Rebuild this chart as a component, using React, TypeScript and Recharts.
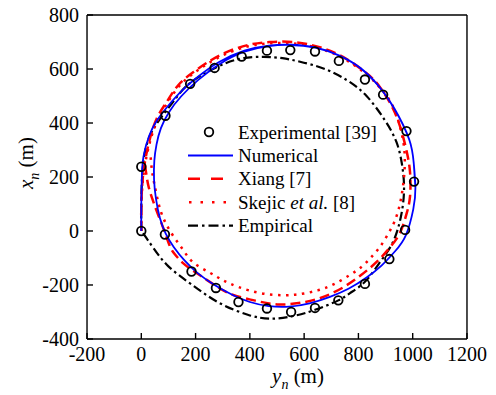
import { ComposedChart, Line, Scatter, XAxis, YAxis } from "recharts";

// every point is [yn, xn] in metres
type Pt = [number, number];

const experimental: Pt[] = [
  [0, 0], [0, 238], [87, -13], [185, -150], [275, -211], [358, -263], [463, -287],
  [552, -300], [640, -285], [726, -257], [824, -196], [914, -104], [972, 4],
  [1005, 183], [977, 370], [891, 505], [824, 561], [728, 630], [640, 665],
  [549, 670], [463, 668], [370, 646], [270, 604], [180, 545], [89, 427],
];

const numerical: Pt[] = [
  [0, 0], [0, 100], [2, 200], [8, 275], [28, 350], [58, 410], [100, 465], [150, 520],
  [210, 572], [285, 625], [380, 668], [470, 687], [550, 690], [640, 680], [730, 650],
  [810, 602], [875, 537], [932, 455], [987, 340], [1004, 250], [1010, 160], [1002, 80],
  [975, -15], [935, -75], [885, -128], [830, -172], [765, -213], [695, -244], [620, -268],
  [545, -280], [470, -278], [400, -263], [335, -236], [270, -200], [210, -158],
  [160, -110], [120, -60], [90, -10], [68, 50], [54, 120], [47, 190], [48, 260],
  [56, 320], [72, 380], [102, 440], [148, 500], [210, 560], [288, 618], [380, 664],
  [470, 685], [550, 689], [640, 679], [730, 649], [810, 601], [875, 536], [932, 454],
  [987, 339], [1004, 249], [1010, 160],
];

const xiang: Pt[] = [
  [0, 0], [0, 90], [4, 180], [14, 260], [32, 343], [57, 417], [94, 479], [136, 540],
  [186, 584], [240, 622], [308, 660], [394, 689], [474, 700], [560, 700], [650, 683],
  [743, 645], [830, 584], [880, 532], [935, 437], [972, 320], [990, 220], [990, 127],
  [978, 66], [953, -7], [915, -62], [870, -112], [810, -163], [740, -211], [660, -248],
  [580, -267], [500, -272], [420, -258], [339, -237], [285, -210], [241, -181],
  [195, -150], [155, -120], [125, -88], [106, -58], [85, 0], [62, 60], [42, 115],
  [28, 160], [20, 200], [12, 255],
];

const skejic: Pt[] = [
  [0, 0], [0, 90], [5, 180], [16, 260], [36, 345], [62, 415], [98, 478], [140, 537],
  [190, 582], [242, 618], [310, 655], [394, 684], [474, 695], [560, 695], [650, 678],
  [743, 640], [830, 580], [880, 530], [923, 470], [955, 380], [970, 290], [968, 200],
  [955, 110], [935, 40], [910, -10], [880, -58], [849, -95], [815, -130], [770, -162],
  [708, -198], [650, -220], [590, -233], [523, -238], [438, -230], [357, -207],
  [300, -182], [250, -153], [191, -116], [154, -70], [120, -22], [92, 25], [72, 72],
  [58, 126], [47, 180], [39, 226], [34, 280],
];

const empirical: Pt[] = [
  [0, 0], [0, 100], [3, 200], [12, 285], [35, 360], [80, 430], [130, 495], [179, 548],
  [272, 604], [365, 638], [450, 645], [520, 640], [585, 627], [671, 602], [757, 559],
  [830, 500], [897, 411], [940, 330], [960, 250], [968, 170], [963, 90], [946, 10],
  [920, -55], [880, -115], [824, -188], [769, -230], [726, -257], [640, -292],
  [560, -315], [480, -325], [395, -311], [285, -265], [185, -198], [99, -130],
  [44, -62], [18, -25], [5, -5],
];

const xMajor = [-200, 0, 200, 400, 600, 800, 1000, 1200];
const xMinor = [-100, 100, 300, 500, 700, 900, 1100];
const yMajor = [-400, -200, 0, 200, 400, 600, 800];
const yMinor = [-300, -100, 100, 300, 500, 700];

const legendItems = [
  { key: "exp", label: "Experimental [39]" },
  { key: "num", label: "Numerical" },
  { key: "xiang", label: "Xiang [7]" },
  { key: "skejic", label: "Skejic" },
  { key: "emp", label: "Empirical" },
];

const rows = (pts: Pt[]) => pts.map(([yn, xn]) => ({ yn, xn }));

const FONT = "'Liberation Serif', 'Times New Roman', serif";
const AXIS = { stroke: "#000", strokeWidth: 1.4 };
// axes need a non-zero box to render; keep it tiny so the plot area is set by margins
const THIN = 0.01;

const BLUE = "#0000ff";
const RED = "#ff0000";
const DASH = "10 5";
const DOT = "2.5 5.5";
const DASHDOT = "9 3.5 2.5 3.5";

type TickProps = { x?: number; y?: number; payload?: { value: number } };

function BottomTick({ x, y, payload }: TickProps) {
  return (
    <text x={x} y={y} dy="0.71em" textAnchor="middle" fontSize={20} fontFamily={FONT} fill="#000">
      {payload?.value}
    </text>
  );
}

function LeftTick({ x, y, payload }: TickProps) {
  return (
    <text x={x} y={y} dy="0.355em" textAnchor="end" fontSize={20} fontFamily={FONT} fill="#000">
      {payload?.value}
    </text>
  );
}

function Circle(props: { cx?: number; cy?: number }) {
  const { cx, cy } = props;
  if (cx == null || cy == null) return null;
  return <circle cx={cx} cy={cy} r={4.3} fill="none" stroke="#000" strokeWidth={1.8} />;
}

function LegendBox() {
  return (
    <svg width={240} height={125} style={{ position: "absolute", left: 180, top: 118 }}>
      {legendItems.map((it, i) => {
        const y = 14 + i * 23.4;
        let sample = null;
        if (it.key === "exp") sample = <circle cx={29} cy={y} r={4.3} fill="none" stroke="#000" strokeWidth={1.8} />;
        if (it.key === "num") sample = <line x1={8} x2={53} y1={y} y2={y} stroke={BLUE} strokeWidth={2} />;
        if (it.key === "xiang")
          sample = <line x1={8} x2={53} y1={y} y2={y} stroke={RED} strokeWidth={2.5} strokeDasharray="12 11" />;
        if (it.key === "skejic")
          sample = <line x1={9} x2={53} y1={y} y2={y} stroke={RED} strokeWidth={2.5} strokeDasharray="2.5 9" />;
        if (it.key === "emp")
          sample = <line x1={8} x2={53} y1={y} y2={y} stroke="#000" strokeWidth={2.2} strokeDasharray="10 4 2.5 4" />;
        return (
          <g key={it.key}>
            {sample}
            <text x={58} y={y} dy="0.35em" fontSize={19} fontFamily={FONT} fill="#000">
              {it.key === "skejic" ? (
                <>
                  Skejic <tspan fontStyle="italic">et al.</tspan> [8]
                </>
              ) : (
                it.label
              )}
            </text>
          </g>
        );
      })}
    </svg>
  );
}

export default function App() {
  return (
    <div style={{ position: "absolute", left: 0, top: 0, width: 496, height: 395, background: "#fff", fontFamily: FONT }}>
      <ComposedChart width={496} height={395} margin={{ top: 15, right: 29, bottom: 56, left: 87 }}>
        <XAxis
          xAxisId="b"
          dataKey="yn"
          type="number"
          domain={[-200, 1200]}
          ticks={xMajor}
          interval={0}
          height={THIN}
          tickSize={-6}
          tickMargin={14}
          tick={BottomTick}
          stroke="#000"
          axisLine={AXIS}
          tickLine={AXIS}
          allowDataOverflow
        />
        <XAxis xAxisId="bm" type="number" domain={[-200, 1200]} ticks={xMinor} interval={0} height={THIN}
          tickSize={-3.5} tick={false} axisLine={false} tickLine={AXIS} stroke="#000" allowDataOverflow />
        <XAxis xAxisId="t" orientation="top" type="number" domain={[-200, 1200]} ticks={xMajor} interval={0} height={THIN}
          tickSize={-6} tick={false} axisLine={AXIS} tickLine={AXIS} stroke="#000" allowDataOverflow />
        <XAxis xAxisId="tm" orientation="top" type="number" domain={[-200, 1200]} ticks={xMinor} interval={0} height={THIN}
          tickSize={-3.5} tick={false} axisLine={false} tickLine={AXIS} stroke="#000" allowDataOverflow />
        <YAxis
          yAxisId="l"
          type="number"
          domain={[-400, 800]}
          ticks={yMajor}
          interval={0}
          width={THIN}
          tickSize={-6}
          tickMargin={14}
          tick={LeftTick}
          stroke="#000"
          axisLine={AXIS}
          tickLine={AXIS}
          allowDataOverflow
        />
        <YAxis yAxisId="lm" type="number" domain={[-400, 800]} ticks={yMinor} interval={0} width={THIN}
          tickSize={-3.5} tick={false} axisLine={false} tickLine={AXIS} stroke="#000" allowDataOverflow />
        <YAxis yAxisId="r" orientation="right" type="number" domain={[-400, 800]} ticks={yMajor} interval={0} width={THIN}
          tickSize={-6} tick={false} axisLine={AXIS} tickLine={AXIS} stroke="#000" allowDataOverflow />
        <YAxis yAxisId="rm" orientation="right" type="number" domain={[-400, 800]} ticks={yMinor} interval={0} width={THIN}
          tickSize={-3.5} tick={false} axisLine={false} tickLine={AXIS} stroke="#000" allowDataOverflow />

        <Line xAxisId="b" yAxisId="l" data={rows(empirical)} dataKey="xn" type="natural" stroke="#000"
          strokeWidth={2.2} strokeDasharray={DASHDOT} dot={false} isAnimationActive={false} />
        <Line xAxisId="b" yAxisId="l" data={rows(skejic)} dataKey="xn" type="natural" stroke={RED}
          strokeWidth={2.5} strokeDasharray={DOT} dot={false} isAnimationActive={false} />
        <Line xAxisId="b" yAxisId="l" data={rows(xiang)} dataKey="xn" type="natural" stroke={RED}
          strokeWidth={2.5} strokeDasharray={DASH} dot={false} isAnimationActive={false} />
        <Line xAxisId="b" yAxisId="l" data={rows(numerical)} dataKey="xn" type="natural" stroke={BLUE}
          strokeWidth={1.8} dot={false} isAnimationActive={false} />
        <Scatter xAxisId="b" yAxisId="l" data={rows(experimental)} dataKey="xn" shape={Circle} isAnimationActive={false} />
      </ComposedChart>

      <LegendBox />

      <div style={{ position: "absolute", left: 29, top: 163, transform: "translate(-50%, -50%) rotate(-90deg)",
        fontFamily: FONT, fontSize: 21, whiteSpace: "nowrap", lineHeight: 1 }}>
        <i>x</i><sub style={{ fontSize: 14 }}><i>n</i></sub> (m)
      </div>
      <div style={{ position: "absolute", left: 298, top: 379, transform: "translate(-50%, -50%)",
        fontFamily: FONT, fontSize: 21, whiteSpace: "nowrap", lineHeight: 1 }}>
        <i>y</i><sub style={{ fontSize: 14 }}><i>n</i></sub> (m)
      </div>
    </div>
  );
}
